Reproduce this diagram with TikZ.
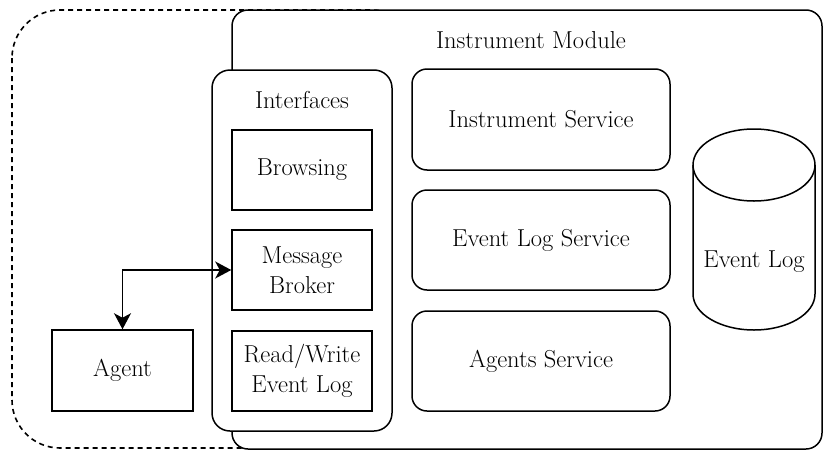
\documentclass[tikz,border=0pt]{standalone}
\usetikzlibrary{arrows.meta}
\begin{document}
\begin{tikzpicture}[x=1pt,y=-1pt,
  txt/.style={font=\fontsize{24.5}{29.5}\selectfont, align=center},
  boxline/.style={draw=black, line width=1.5pt},
  plainbox/.style={boxline, fill=white, inner sep=0pt, txt},
  roundbox/.style={plainbox, rounded corners=#1},
  roundbox/.default=15pt,
  conn/.style={line width=1.5pt, {Stealth[length=16pt,width=17pt,inset=4.5pt]}-{Stealth[length=16pt,width=17pt,inset=4.5pt]}}
]
\useasboundingbox[fill=white] (0,0) rectangle (824,450);

% dashed outer boundary (partly covered by the module)
\draw[line width=1.6pt, dash pattern=on 5pt off 4pt, rounded corners=48pt]
  (12,10) rectangle (420,448);

% instrument module
\node[roundbox=16pt, minimum width=590pt, minimum height=439pt] (module) at (527,229.5) {};
\node[txt] (modlabel) at (531,40) {Instrument Module};

% interfaces container
\node[roundbox=18pt, minimum width=180pt, minimum height=361pt] (iface) at (302,250.5) {};
\node[txt] (ifacelabel) at (302,100) {Interfaces};

\node[plainbox, minimum width=140pt, minimum height=80pt] (browse) at (302,170) {Browsing};
\node[plainbox, minimum width=140pt, minimum height=80pt] (broker) at (302,270) {Message\\Broker};
\node[plainbox, minimum width=140pt, minimum height=80pt] (rw) at (302,371) {Read/Write\\Event Log};

% services
\node[roundbox, minimum width=258pt, minimum height=101pt] (instsvc) at (541,119.5) {Instrument Service};
\node[roundbox, minimum width=258pt, minimum height=100pt] (logsvc) at (541,240) {Event Log Service};
\node[roundbox, minimum width=258pt, minimum height=100pt] (agsvc) at (541,361) {Agents Service};

% event log store (cylinder)
\fill[white] (693,165) -- (693,294) arc[start angle=180, end angle=360, x radius=61pt, y radius=36pt]
  -- (815,165) arc[start angle=0, end angle=180, x radius=61pt, y radius=36pt] -- cycle;
\draw[boxline] (754,165) ellipse[x radius=61pt, y radius=36pt];
\draw[boxline] (693,165) -- (693,294) arc[start angle=180, end angle=0, x radius=61pt, y radius=-36pt] -- (815,165);
\node[txt] (evlog) at (754,262) {Event Log};

% agent
\node[plainbox, minimum width=141pt, minimum height=81pt] (agent) at (122.5,370.5) {Agent};

\draw[conn] (broker.west) -| (agent.north);
\end{tikzpicture}
\end{document}
